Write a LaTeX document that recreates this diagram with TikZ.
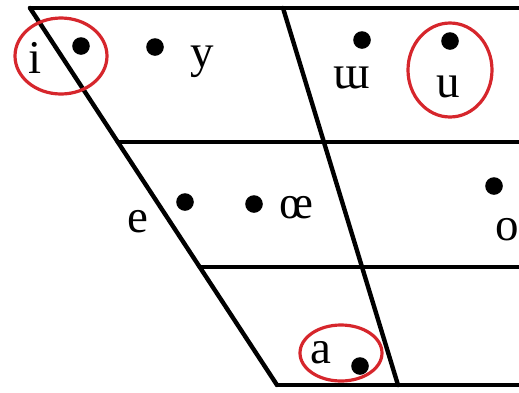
\documentclass[tikz,border=0pt]{standalone}
\usepackage{fontspec}
\setmainfont{Liberation Serif}
\definecolor{ringred}{RGB}{214,38,44}
\begin{document}
\begin{tikzpicture}[x=0.5pt,y=-0.5pt,
  grid/.style={line width=2.2pt,line cap=round,line join=round},
  vdot/.style={circle,fill=black,inner sep=0pt,minimum size=8.8pt},
  sym/.style={anchor=base,inner sep=0pt,font=\fontsize{23.5}{25}\selectfont},
  ring/.style={draw=ringred,line width=1.6pt}]
\useasboundingbox (0,0) rectangle (519,392);
% frame coordinates
\coordinate (tl) at (30,8);
\coordinate (tr) at (519,8);
\coordinate (tm) at (283,8);
\coordinate (bl) at (277,385);
\coordinate (bm) at (398,385);
\coordinate (br) at (519,385);
\coordinate (l2) at (117.8,142);
\coordinate (r2) at (519,142);
\coordinate (l3) at (199.7,267);
\coordinate (r3) at (519,267);
\begin{scope}
\clip (0,0) rectangle (519,392);
\draw[grid] (tl) -- (tr);
\draw[grid] (tl) -- (bl);
\draw[grid] (tm) -- (bm);
\draw[grid] (l2) -- (r2);
\draw[grid] (l3) -- (r3);
\draw[grid] (bl) -- (br);
\end{scope}
% dots
\node[vdot] (di) at (81,46) {};
\node[vdot] (dy) at (155,47) {};
\node[vdot] (dw) at (362,40) {};
\node[vdot] (du) at (450,41) {};
\node[vdot] (de) at (185,202) {};
\node[vdot] (doe) at (254,204) {};
\node[vdot] (do) at (494,186) {};
\node[vdot] (da) at (360,366) {};
% symbols
\node[sym] (ti) at (35,73) {i};
\node[sym] (ty) at (202,67) {y};
\node[sym] (tw) at (352,88) {ɯ};
\node[sym] (tu) at (448,97) {u};
\node[sym] (te) at (138,232) {e};
\node[sym] (toe) at (296,218) {œ};
\node[sym] (to) at (507,240) {o};
\node[sym] (ta) at (321,363) {a};
% red rings
\draw[ring] (61,56) ellipse [x radius=46, y radius=38];
\draw[ring] (450,70) ellipse [x radius=42, y radius=47];
\draw[ring] (341,353) ellipse [x radius=41, y radius=28];
\end{tikzpicture}
\end{document}
